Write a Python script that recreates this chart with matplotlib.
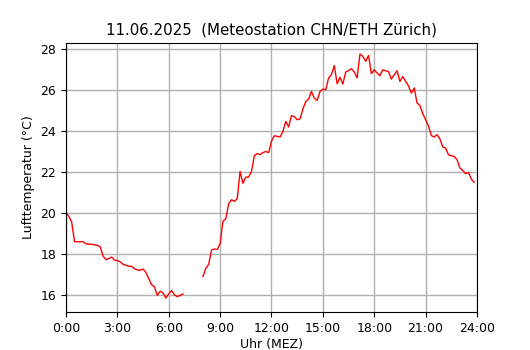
import numpy as np
import matplotlib
matplotlib.use("Agg")
import matplotlib.pyplot as plt

title = '11.06.2025  (Meteostation CHN/ETH Zürich)'

# Lufttemperatur alle 10 Minuten, 0:00 bis 23:50 (7:00-7:50 fehlt)
temp = [
    20.0, 19.85, 19.55, 18.6, 18.6, 18.6,
    18.6, 18.5, 18.48, 18.47, 18.45, 18.42,
    18.35, 17.9, 17.72, 17.78, 17.85, 17.7,
    17.68, 17.62, 17.5, 17.45, 17.4, 17.4,
    17.28, 17.22, 17.2, 17.27, 17.1, 16.8,
    16.5, 16.4, 15.98, 16.18, 16.1, 15.85,
    16.05, 16.22, 16.0, 15.92, 15.98, 16.05,
    np.nan, np.nan, np.nan, np.nan, np.nan, np.nan,
    16.9, 17.3, 17.5, 18.2, 18.24, 18.22,
    18.5, 19.6, 19.72, 20.45, 20.65, 20.57,
    20.7, 22.03, 21.45, 21.75, 21.75, 22.03,
    22.8, 22.9, 22.85, 22.95, 23.0, 22.95,
    23.5, 23.77, 23.74, 23.71, 23.98, 24.47,
    24.2, 24.75, 24.71, 24.55, 24.59, 25.07,
    25.44, 25.56, 25.93, 25.61, 25.49, 25.93,
    26.05, 26.01, 26.59, 26.75, 27.19, 26.31,
    26.62, 26.29, 26.88, 26.95, 27.04, 26.88,
    26.59, 27.76, 27.64, 27.4, 27.69, 26.8,
    26.99, 26.83, 26.7, 26.99, 26.94, 26.9,
    26.53, 26.75, 26.94, 26.42, 26.66, 26.42,
    26.2, 25.85, 26.1, 25.37, 25.25, 24.85,
    24.55, 24.25, 23.78, 23.71, 23.82, 23.62,
    23.22, 23.17, 22.84, 22.8, 22.76, 22.6,
    22.2, 22.08, 21.92, 21.98, 21.66, 21.49,
]
hours = np.arange(len(temp)) / 6.0

xticks = [0, 3, 6, 9, 12, 15, 18, 21, 24]
xticklabels = ['0:00', '3:00', '6:00', '9:00', '12:00', '15:00', '18:00', '21:00', '24:00']
yticks = [16, 18, 20, 22, 24, 26, 28]


def plot():
    fig = plt.figure(figsize=(5.3, 3.5), dpi=100)
    ax = fig.add_axes([0.1245, 0.1086, 0.7755, 0.7694])
    ax.plot(hours, temp, color='red', linewidth=1)

    ax.set_xlim(0, 24)
    ax.set_ylim(15.17, 28.31)
    ax.set_xticks(xticks)
    ax.set_xticklabels(xticklabels)
    ax.set_yticks(yticks)
    ax.tick_params(labelsize=9)
    ax.grid(True, color='#b0b0b0', linewidth=1)

    ax.set_title(title, fontsize=10.8)
    ax.set_xlabel('Uhr (MEZ)', fontsize=9, labelpad=2.5)
    ax.set_ylabel('Lufttemperatur (°C)', fontsize=9)

    fig.savefig('out.png', dpi=100)


if __name__ == '__main__':
    plot()
